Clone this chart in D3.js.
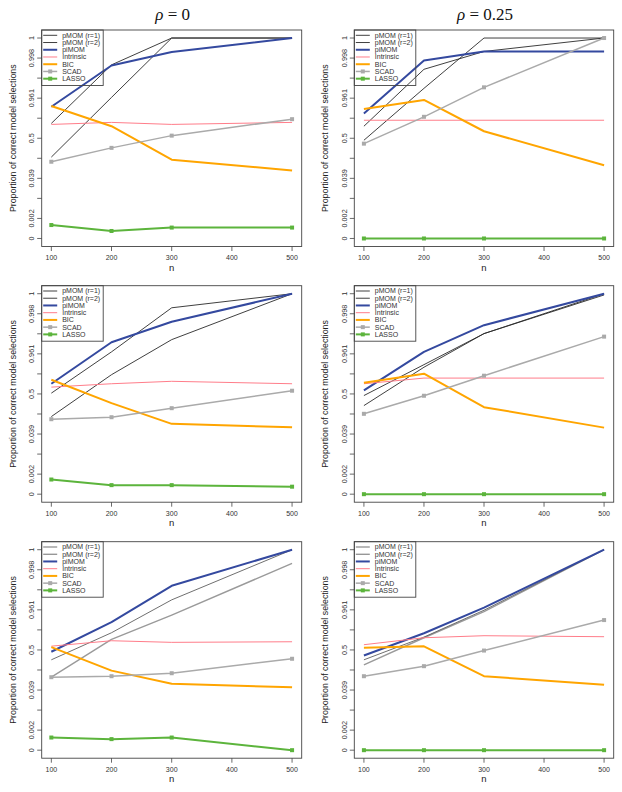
<!DOCTYPE html>
<html>
<head>
<meta charset="utf-8">
<script src="https://cdn.jsdelivr.net/npm/d3@7"></script>
<style>
  body { margin: 0; background: #fff; }
  svg { display: block; }
</style>
</head>
<body>
<svg id="chart"></svg>
<script>
// x values (sample size n)
const nValues = [100, 200, 300, 500];
const xTicks = [100, 200, 300, 400, 500];

const seriesNames = ["pMOM (r=1)", "pMOM (r=2)", "piMOM", "Intrinsic", "BIC", "SCAD", "LASSO"];
const colTitles = ["0", "0.25"];

// y axis is on logit scale, labels are the rounded probabilities
const yTickLogits = [-8, -6.4, -3.2, 0, 3.2, 6.4, 8];
const yTickLabels = ["0", "0.002", "0.039", "0.5", "0.961", "0.998", "1"];
const yMinorLogits = [-4.8, -1.6, 1.6, 4.8];

// proportion of correct selections, rows in legend order
const rho0Row1 = [
  [0.182, 0.963, 1, 1],
  [0.766, 0.99715, 1, 1],
  [0.925, 0.99701, 0.99897, 1],
  [0.751, 0.780, 0.751, 0.780],
  [0.929, 0.723, 0.153, 0.0707],
  [0.133, 0.317, 0.552, 0.821],
  [0.00098, 0.00061, 0.0008, 0.0008]
];
const rho25Row1 = [
  [0.460, 0.9817, 1, 1],
  [0.723, 0.99594, 0.99902, 1],
  [0.879, 0.99799, 0.99902, 0.99902],
  [0.808, 0.808, 0.808, 0.808],
  [0.911, 0.955, 0.636, 0.1034],
  [0.394, 0.847, 0.9831, 1],
  [0, 0, 0, 0]
];
const rho0Row2 = [
  [0.141, 0.823, 0.98707, 1],
  [0.516, 0.9664, 0.99897, 1],
  [0.693, 0.9841, 0.99686, 1],
  [0.633, 0.693, 0.733, 0.693],
  [0.757, 0.324, 0.0843, 0.0656],
  [0.1175, 0.135, 0.243, 0.564],
  [0.00108, 0.00069, 0.00069, 0.00061]
];
const rho25Row2 = [
  [0.283, 0.894, 0.99197, 0.99963],
  [0.468, 0.912, 0.99197, 1],
  [0.572, 0.9664, 0.99588, 1],
  [0.693, 0.780, 0.780, 0.780],
  [0.710, 0.834, 0.258, 0.0637],
  [0.170, 0.464, 0.811, 0.9898],
  [0, 0, 0, 0]
];
const rho0Row3 = [
  [0.102, 0.700, 0.942, 0.999],
  [0.313, 0.798, 0.982, 1],
  [0.464, 0.902, 0.99406, 1],
  [0.575, 0.676, 0.647, 0.658],
  [0.556, 0.161, 0.0627, 0.0485],
  [0.102, 0.1095, 0.135, 0.331],
  [0.00092, 0.00081, 0.00092, 0]
];
const rho25Row3 = [
  [0.234, 0.726, 0.955, 1],
  [0.313, 0.736, 0.9597, 1],
  [0.390, 0.791, 0.967, 1],
  [0.603, 0.726, 0.757, 0.742],
  [0.544, 0.572, 0.1095, 0.0582],
  [0.1095, 0.215, 0.488, 0.9157],
  [0, 0, 0, 0]
];

const panelData = [
  [rho0Row1, rho25Row1],
  [rho0Row2, rho25Row2],
  [rho0Row3, rho25Row3]
];

const width = 622, height = 792;
const svg = d3.select("#chart").attr("width", width).attr("height", height);

// plot box positions
const colLeft = [41.7, 354.3];
const colRight = [301.7, 613.7];
const rowTop = [30, 285.7, 541.7];
const boxH = 216.5;

function toLogit(p) {
  const v = Math.log(p / (1 - p));
  return Math.max(-8, Math.min(8, v));
}

// line styles per series
function seriesStyle(i, row) {
  const pm = row === 2 ? ["#9a9a9a", "#5f5f5f"] : ["#2a2a2a", "#2a2a2a"];
  const styles = [
    { color: pm[0], w: row === 2 ? 1.4 : 0.9 },
    { color: pm[1], w: 0.9 },
    { color: "#34499f", w: 2 },
    { color: "#ff7d8a", w: 1 },
    { color: "#ffa500", w: 2 },
    { color: "#aaaaaa", w: 1.5, pt: true },
    { color: "#5cb43c", w: 2, pt: true }
  ];
  return styles[i];
}

const font = "Liberation Sans, Arial, sans-serif";

panelData.forEach((rowData, r) => {
  rowData.forEach((series, c) => {
    const left = colLeft[c], right = colRight[c];
    const top = rowTop[r], bottom = top + boxH;

    const x = d3.scaleLinear().domain([84, 516]).range([left, right]);
    const y = d3.scaleLinear().domain([-8.64, 8.64]).range([bottom, top]);

    const g = svg.append("g");

    // series lines and points
    series.forEach((vals, i) => {
      const st = seriesStyle(i, r);
      const pts = vals.map((v, k) => [nValues[k], v]);
      const line = d3.line().x(d => x(d[0])).y(d => y(toLogit(d[1])));
      g.append("path")
        .attr("d", line(pts))
        .attr("fill", "none")
        .attr("stroke", st.color)
        .attr("stroke-width", st.w)
        .attr("stroke-linejoin", "round");
      if (st.pt) {
        g.selectAll(null).data(pts).enter().append("rect")
          .attr("x", d => x(d[0]) - 2)
          .attr("y", d => y(toLogit(d[1])) - 2)
          .attr("width", 4).attr("height", 4)
          .attr("fill", st.color);
      }
    });

    // box
    g.append("rect")
      .attr("x", left).attr("y", top)
      .attr("width", right - left).attr("height", boxH)
      .attr("fill", "none").attr("stroke", "#444").attr("stroke-width", 0.9);

    // y axis ticks
    const allY = yTickLogits.concat(yMinorLogits);
    allY.forEach(t => {
      g.append("line")
        .attr("x1", left).attr("x2", left - 4.5)
        .attr("y1", y(t)).attr("y2", y(t))
        .attr("stroke", "#444").attr("stroke-width", 0.8);
    });
    yTickLogits.forEach((t, k) => {
      g.append("text")
        .attr("transform", `translate(${left - 10},${y(t)}) rotate(-90)`)
        .attr("text-anchor", "middle")
        .attr("dy", "0.35em")
        .attr("font-family", font)
        .attr("font-size", 7.3)
        .attr("fill", "#333")
        .text(yTickLabels[k]);
    });

    // x axis
    xTicks.forEach(t => {
      g.append("line")
        .attr("x1", x(t)).attr("x2", x(t))
        .attr("y1", bottom).attr("y2", bottom + 4.5)
        .attr("stroke", "#444").attr("stroke-width", 0.8);
      g.append("text")
        .attr("x", x(t)).attr("y", bottom + 13.5)
        .attr("text-anchor", "middle")
        .attr("font-family", font)
        .attr("font-size", 7)
        .attr("fill", "#333")
        .text(t);
    });

    g.append("text")
      .attr("x", (left + right) / 2).attr("y", bottom + 24)
      .attr("text-anchor", "middle")
      .attr("font-family", font)
      .attr("font-size", 9.5)
      .attr("fill", "#222")
      .text("n");

    g.append("text")
      .attr("transform", `translate(${left - 29},${(top + bottom) / 2}) rotate(-90)`)
      .attr("text-anchor", "middle")
      .attr("dy", "0.35em")
      .attr("font-family", font)
      .attr("font-size", 8.8)
      .attr("fill", "#222")
      .text("Proportion of correct model selections");

    // legend
    const lg = g.append("g");
    lg.append("rect")
      .attr("x", left).attr("y", top)
      .attr("width", 61.5).attr("height", 55.5)
      .attr("fill", "none").attr("stroke", "#444").attr("stroke-width", 0.9);
    seriesNames.forEach((name, i) => {
      const st = seriesStyle(i, r);
      const ly = top + 5.3 + i * 7.23;
      lg.append("line")
        .attr("x1", left + 1.5).attr("x2", left + 15.5)
        .attr("y1", ly).attr("y2", ly)
        .attr("stroke", st.color).attr("stroke-width", st.w);
      if (st.pt) {
        lg.append("rect")
          .attr("x", left + 8.5 - 2).attr("y", ly - 2)
          .attr("width", 4).attr("height", 4)
          .attr("fill", st.color);
      }
      lg.append("text")
        .attr("x", left + 20.5).attr("y", ly)
        .attr("dy", "0.35em")
        .attr("font-family", font)
        .attr("font-size", 7)
        .attr("fill", "#333")
        .text(name);
    });

    // column titles on first row
    if (r === 0) {
      const t = g.append("text")
        .attr("x", (left + right) / 2 + 1).attr("y", 20)
        .attr("text-anchor", "middle")
        .attr("font-family", "Liberation Serif, DejaVu Serif, serif")
        .attr("font-size", 17)
        .attr("fill", "#111");
      t.append("tspan").attr("font-style", "italic").text("ρ");
      t.append("tspan").text(" = " + colTitles[c]);
    }
  });
});
</script>
</body>
</html>
